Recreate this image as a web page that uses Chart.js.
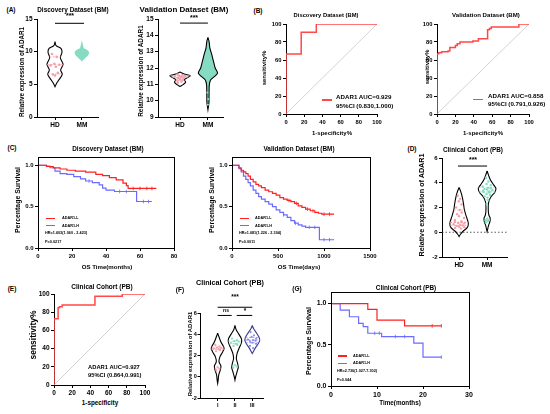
<!DOCTYPE html>
<html>
<head>
<meta charset="utf-8">
<script src="https://cdn.jsdelivr.net/npm/chart.js@4.4.1/dist/chart.umd.min.js"></script>
<style>
  body { margin: 0; width: 550px; height: 414px; background: #fff; position: relative; overflow: hidden;
         font-family: 'Liberation Sans', Arial, sans-serif; font-weight: bold; color: #000; }
  .box { position: absolute; }
  .t { position: absolute; white-space: nowrap; line-height: 1; font-size: 10px; }
  .ln { position: absolute; height: 1.3px; }
</style>
</head>
<body>
<script>
// ---------- data ----------
const PINK = '#f5a0aa';
const TEAL = '#86dcc3';
const LAVENDER = '#8f8fe8';
const RED = '#ff2020';
const BLUE = '#6b6bff';
const ROC_RED = '#ff4848';

const pairLabels = ['HD', 'MM'];
const stageLabels = ['I', 'II', 'III'];
const survTickLabels = ['0.0', '0.5', '1.0'];

// violin outlines: [value, half width in category units], top to bottom
const discHdProfile = [[11.53, 0], [10.92, 0.04], [10.51, 0.22], [9.9, 0.26], [9.08, 0.2], [8.06, 0.3], [7.19, 0.21], [6.53, 0.27], [5.66, 0.14], [5.15, 0.06], [4.64, 0]];
const discMmProfile = [[11.79, 0], [11.02, 0.04], [10.51, 0.08], [10.26, 0.2], [9.9, 0.27], [9.49, 0.24], [9.08, 0.14], [8.72, 0.05], [8.47, 0]];
const discHdValues = [9.65, 9.2, 8.15, 8.0, 7.9, 7.7, 6.75, 6.5, 6.35];
const discHdQuart = [6.6, 8.0, 9.2];

const valHdProfile = [[11.75, 0], [11.63, 0.15], [11.53, 0.36], [11.42, 0.27], [11.28, 0.15], [11.14, 0.2], [10.98, 0.11], [10.87, 0]];
const valMmProfile = [[13.87, 0], [13.63, 0.04], [13.22, 0.07], [12.81, 0.14], [12.4, 0.2], [12.0, 0.26], [11.69, 0.345], [11.49, 0.24], [11.28, 0.1], [10.98, 0.05], [10.36, 0.04], [9.86, 0.035], [9.45, 0]];
const valHdValues = [11.6, 11.56, 11.53, 11.5, 11.48, 11.45, 11.42, 11.38, 11.33, 11.28, 11.22, 11.17, 11.1];
const valMmTail = [10.5, 10.1, 9.75];
const valHdQuart = [11.25, 11.42, 11.52];

const clinHdProfile = [[3.63, 0], [3.28, 0.06], [2.87, 0.11], [2.34, 0.155], [1.8, 0.19], [1.26, 0.26], [0.72, 0.33], [0.37, 0.29], [0.1, 0.15], [-0.16, 0.05], [-0.35, 0]];
const clinMmProfile = [[4.95, 0], [4.62, 0.05], [4.22, 0.12], [3.81, 0.24], [3.55, 0.315], [3.22, 0.27], [2.87, 0.14], [2.47, 0.06], [1.93, 0.04], [1.4, 0.06], [1.13, 0.11], [0.86, 0.1], [0.53, 0.05], [0.05, 0]];
const clinHdValues = [2.95, 2.7, 2.5, 2.25, 2.0, 1.8, 1.6, 1.45, 1.3, 1.15, 1.0, 0.9, 0.85, 0.8, 0.75, 0.7, 0.65, 0.6, 0.55, 0.5, 0.45, 0.4, 0.35, 0.3];
const clinMmValues = [4.4, 4.1, 3.9, 3.8, 3.7, 3.6, 3.55, 3.5, 3.45, 3.4, 3.35, 3.3, 3.25, 3.2, 3.1, 3.0, 2.9, 2.8, 2.6, 2.3, 1.1, 1.0, 0.95, 0.9, 0.8];
const clinHdQuart = [0.55, 0.8, 1.8];
const clinMmQuart = [2.6, 3.25, 3.6];

const stage1Profile = [[4.11, 0], [3.74, 0.08], [3.27, 0.19], [2.87, 0.33], [2.65, 0.37], [2.34, 0.29], [1.87, 0.13], [1.4, 0.08], [1.0, 0.19], [0.63, 0.15], [0.16, 0.06], [-0.31, 0.03], [-0.62, 0]];
const stage2Profile = [[4.83, 0], [4.43, 0.07], [3.99, 0.23], [3.59, 0.37], [3.27, 0.385], [2.8, 0.27], [2.18, 0.12], [1.72, 0.08], [1.25, 0.15], [0.88, 0.19], [0.47, 0.12], [0, 0.04], [-0.31, 0]];
const stage3Profile = [[4.83, 0], [4.52, 0.08], [4.15, 0.23], [3.74, 0.385], [3.43, 0.43], [3.12, 0.35], [2.74, 0.19], [2.43, 0.08], [2.18, 0]];
const stage1Values = [3.0, 2.85, 2.75, 2.7, 2.65, 2.6, 2.5, 2.4, 0.9, 0.75, 0.6];
const stage2Values = [3.6, 3.45, 3.35, 3.3, 3.2, 3.1, 3.0, 2.9, 1.1, 0.95, 0.85];
const stage3Values = [4.2, 3.9, 3.75, 3.6, 3.5, 3.45, 3.4, 3.3, 3.2, 3.1, 2.9, 2.7];
const stage1Quart = [0.8, 2.6, 2.8];
const stage2Quart = [1.0, 3.1, 3.35];
const stage3Quart = [3.2, 3.45, 3.7];

// ROC curves (1-specificity %, sensitivity %)
const rocDiscFpr = [0, 0, 16.7, 16.7, 33.3, 33.3, 100];
const rocDiscTpr = [0, 66.7, 66.7, 90.9, 90.9, 100, 100];
const rocValFpr = [0, 0, 2, 2, 5, 5, 12, 12, 14, 14, 20, 20, 22, 22, 25, 25, 39, 39, 45, 45, 55, 55, 57, 57, 59, 59, 89, 89, 100];
const rocValTpr = [0, 67, 67, 68, 68, 69.2, 69.2, 70, 70, 74, 74, 76, 76, 78, 78, 80, 80, 81, 81, 83.5, 83.5, 93.5, 93.5, 95, 95, 96.8, 96.8, 100, 100];
const rocClinFpr = [0, 0, 4.5, 4.5, 6, 6, 9, 9, 45, 45, 75, 75, 100];
const rocClinTpr = [0, 72.7, 72.7, 84.8, 84.8, 86, 86, 87.9, 87.9, 97.5, 97.5, 100, 100];

// Kaplan-Meier curves
const discLowT = [0, 5, 9, 13, 17, 22, 28, 34, 38, 42, 46, 50, 52, 53, 69.6];
const discLowS = [1.0, 0.985, 0.968, 0.955, 0.94, 0.93, 0.916, 0.89, 0.875, 0.85, 0.823, 0.783, 0.755, 0.72, 0.72];
const discHighT = [0, 4, 5, 7, 10, 13, 17, 21, 25, 28, 32, 36, 38, 40, 45, 58, 67];
const discHighS = [1.0, 1.0, 0.99, 0.97, 0.93, 0.9, 0.89, 0.863, 0.835, 0.81, 0.79, 0.763, 0.723, 0.7, 0.683, 0.562, 0.562];
const discLowCensor = [56, 60, 64, 67];
const discHighCensor = [30, 48, 52, 62, 65];

const valLowT = [0, 60, 75, 100, 125, 150, 175, 200, 230, 260, 290, 320, 360, 400, 440, 480, 520, 560, 600, 640, 680, 720, 760, 800, 850, 900, 940, 975, 1110];
const valLowS = [1.0, 1.0, 0.97, 0.94, 0.92, 0.9, 0.87, 0.83, 0.8, 0.77, 0.75, 0.73, 0.7, 0.68, 0.66, 0.64, 0.61, 0.59, 0.575, 0.56, 0.54, 0.51, 0.49, 0.47, 0.45, 0.43, 0.42, 0.41, 0.41];
const valHighT = [0, 60, 75, 100, 125, 150, 175, 200, 230, 260, 290, 320, 360, 400, 440, 480, 520, 560, 600, 640, 680, 720, 760, 800, 950, 1110];
const valHighS = [1.0, 1.0, 0.96, 0.92, 0.87, 0.83, 0.79, 0.75, 0.7, 0.66, 0.62, 0.59, 0.56, 0.53, 0.5, 0.46, 0.43, 0.4, 0.37, 0.33, 0.3, 0.28, 0.265, 0.25, 0.1, 0.1];
const valLowCensor = [620, 700, 820, 880, 1000, 1060];
const valHighCensor = [560, 690, 840, 900, 1000, 1060];

const clinLowT = [0, 8, 10, 16, 24];
const clinLowS = [1.0, 0.93, 0.8, 0.73, 0.73];
const clinHighT = [0, 2, 4, 6, 7, 8, 11, 18, 20, 24];
const clinHighS = [1.0, 0.92, 0.84, 0.76, 0.72, 0.64, 0.6, 0.52, 0.35, 0.35];
const clinLowCensor = [22, 24];
const clinHighCensor = [9.5, 10.5, 14, 16, 24];

// dot spread pattern inside violins (fraction of local half width)
const JITTER = [-0.55, 0.35, -0.1, 0.65, -0.7, 0.15, 0.5, -0.35, 0.0, 0.75, -0.6, 0.3];

// ---------- setup ----------
Chart.defaults.font.family = "'Liberation Sans', Arial, sans-serif";
Chart.defaults.font.weight = 'bold';
Chart.defaults.color = '#000';
Chart.defaults.animation = false;
Chart.defaults.events = [];
Chart.defaults.plugins.legend.display = false;
Chart.defaults.plugins.tooltip.enabled = false;

const framePlugin = {
  id: 'frame',
  afterDraw(chart) {
    const { ctx, chartArea: a } = chart;
    ctx.save();
    ctx.strokeStyle = '#000';
    ctx.lineWidth = 1;
    ctx.strokeRect(Math.round(a.left) + 0.5, Math.round(a.top) + 0.5, Math.round(a.right - a.left), Math.round(a.bottom - a.top));
    ctx.restore();
  },
};

function txt(x, y, s, size, opt = {}) {
  const d = document.createElement('div');
  d.className = 't';
  d.textContent = s;
  d.style.left = x + 'px';
  d.style.top = y + 'px';
  const start = opt.align === 'start';
  d.style.transformOrigin = start ? '0 50%' : '50% 50%';
  d.style.transform = `translate(${start ? '0' : '-50%'},-50%)` + (opt.rot ? ' rotate(-90deg)' : '') + ` scale(${size / 10})`;
  document.body.appendChild(d);
}

function hline(x0, x1, y, color) {
  const d = document.createElement('div');
  d.className = 'ln';
  d.style.left = x0 + 'px';
  d.style.width = (x1 - x0) + 'px';
  d.style.top = (y - 0.65) + 'px';
  d.style.background = color;
  document.body.appendChild(d);
}

function axis(spec, dir, size) {
  return {
    type: 'linear',
    min: spec.min,
    max: spec.max,
    afterBuildTicks: (s) => { s.ticks = spec.ticks.map((v) => ({ value: v })); },
    afterFit: (s) => { if (dir === 'x') s.height = size; else s.width = size; },
    ticks: {
      autoSkip: false, maxRotation: 0, padding: spec.pad ?? 1.5, color: '#000',
      font: { size: spec.font, weight: 'bold' },
      callback: (v, i) => (spec.labels ? spec.labels[i] : String(v)),
    },
    grid: { drawOnChartArea: false, tickLength: spec.tick ?? 3, color: '#000', lineWidth: 1 },
    border: { color: '#000', width: 1 },
  };
}

function makeChart(area, datasets, xSpec, ySpec, plugins = [], padTop = 8) {
  const YW = 20, XH = 14, PR = 10;
  const box = document.createElement('div');
  box.className = 'box';
  box.style.left = (area.l - YW) + 'px';
  box.style.top = (area.t - padTop) + 'px';
  box.style.width = (area.r - area.l + YW + PR) + 'px';
  box.style.height = (area.b - area.t + XH + padTop) + 'px';
  const cv = document.createElement('canvas');
  box.appendChild(cv);
  document.body.appendChild(box);
  return new Chart(cv, {
    type: 'line',
    data: { datasets },
    options: {
      responsive: true,
      maintainAspectRatio: false,
      layout: { padding: { top: padTop, right: PR, left: 0, bottom: 0 } },
      scales: { x: axis(xSpec, 'x', XH), y: axis(ySpec, 'y', YW) },
    },
    plugins,
  });
}

function widthAt(profile, y) {
  for (let i = 0; i < profile.length - 1; i++) {
    const [y0, w0] = profile[i];
    const [y1, w1] = profile[i + 1];
    if (y <= y0 && y >= y1) return w0 + (w1 - w0) * (y0 - y) / (y0 - y1);
  }
  return 0;
}

function violinShape(profile, c, stroke, fill) {
  const left = profile.map(([y, w]) => ({ x: c - w, y }));
  const right = profile.slice().reverse().map(([y, w]) => ({ x: c + w, y }));
  return {
    data: left.concat(right),
    borderColor: stroke || 'rgba(0,0,0,0)',
    borderWidth: stroke ? 1.1 : 0,
    backgroundColor: fill || 'rgba(0,0,0,0)',
    fill: fill ? 'shape' : false,
    tension: 0.3,
    pointRadius: 0,
  };
}

function violinDots(values, c, profile, color, r = 1.3) {
  return {
    data: values.map((v, i) => ({ x: c + JITTER[i % JITTER.length] * widthAt(profile, v) * 0.85, y: v })),
    showLine: false,
    pointRadius: r,
    pointBackgroundColor: color,
    pointBorderWidth: 0,
  };
}

function quartLines(quarts, c, profile, color) {
  return quarts.map((q, i) => {
    const w = widthAt(profile, q);
    return {
      data: [{ x: c - w, y: q }, { x: c + w, y: q }],
      borderColor: color,
      borderWidth: i === 1 ? 1.1 : 0.8,
      borderDash: [2, 1.5],
      pointRadius: 0,
    };
  });
}

function bracket(x0, x1, y) {
  return { data: [{ x: x0, y }, { x: x1, y }], borderColor: '#000', borderWidth: 1, pointRadius: 0, clip: false };
}

function rocCurve(fpr, tpr) {
  return { data: fpr.map((f, i) => ({ x: f, y: tpr[i] })), borderColor: ROC_RED, borderWidth: 1.5, pointRadius: 0 };
}

function diagonal() {
  return { data: [{ x: 0, y: 0 }, { x: 100, y: 100 }], borderColor: '#c8c8c8', borderWidth: 0.8, pointRadius: 0 };
}

function kmLine(times, surv, color) {
  return { data: times.map((t, i) => ({ x: t, y: surv[i] })), stepped: true, borderColor: color, borderWidth: 1.2, pointRadius: 0 };
}

function survAt(times, surv, t) {
  let s = surv[0];
  for (let i = 0; i < times.length; i++) if (times[i] <= t) s = surv[i];
  return s;
}

function kmCensor(marks, times, surv, color) {
  return {
    data: marks.map((t) => ({ x: t, y: survAt(times, surv, t) })),
    showLine: false,
    pointStyle: 'line',
    rotation: 90,
    pointRadius: 1.8,
    pointBorderColor: color,
    pointBorderWidth: 0.8,
  };
}

const roc100 = { min: 0, max: 100, ticks: [0, 20, 40, 60, 80, 100], font: 5.8 };

// ---------- (A) discovery violin ----------
makeChart({ l: 37, t: 19, r: 98, b: 117 }, [
  bracket(1, 2.08, 14.34),
  violinDots(discHdValues, 1, discHdProfile, PINK),
  ...quartLines(discHdQuart, 1, discHdProfile, PINK),
  violinShape(discHdProfile, 1, '#000', null),
  violinShape(discMmProfile, 2, null, TEAL),
], { min: 0.33, max: 2.6, ticks: [1, 2], labels: pairLabels, font: 6.5 },
   { min: 0, max: 15, ticks: [0, 5, 10, 15], font: 6.5 });

// ---------- (A) validation violin ----------
makeChart({ l: 158, t: 19, r: 223, b: 117 }, [
  bracket(1, 2, 14.75),
  violinDots(valHdValues, 1, valHdProfile, PINK),
  violinDots(valMmTail, 2, valMmProfile, TEAL, 1.1),
  ...quartLines(valHdQuart, 1, valHdProfile, PINK),
  violinShape(valHdProfile, 1, '#000', null),
  violinShape(valMmProfile, 2, '#000', TEAL),
], { min: 0.21, max: 2.54, ticks: [1, 2], labels: pairLabels, font: 6.5 },
   { min: 9, max: 15, ticks: [9, 10, 11, 12, 13, 14, 15], font: 6.5 });

// ---------- (B) ROC ----------
makeChart({ l: 286, t: 24, r: 377, b: 114 }, [rocCurve(rocDiscFpr, rocDiscTpr), diagonal()], roc100, roc100);
makeChart({ l: 437, t: 24, r: 529, b: 114 }, [rocCurve(rocValFpr, rocValTpr), diagonal()], roc100, roc100);

// ---------- (C) KM ----------
makeChart({ l: 38, t: 157, r: 174, b: 248 }, [
  kmCensor(discLowCensor, discLowT, discLowS, RED),
  kmCensor(discHighCensor, discHighT, discHighS, BLUE),
  kmLine(discLowT, discLowS, RED),
  kmLine(discHighT, discHighS, BLUE),
], { min: 0, max: 80, ticks: [0, 20, 40, 60, 80], font: 6 },
   { min: 0, max: 1.1, ticks: [0, 0.5, 1], labels: survTickLabels, font: 6 }, [framePlugin]);

makeChart({ l: 232, t: 157, r: 370, b: 248 }, [
  kmCensor(valLowCensor, valLowT, valLowS, RED),
  kmCensor(valHighCensor, valHighT, valHighS, BLUE),
  kmLine(valLowT, valLowS, RED),
  kmLine(valHighT, valHighS, BLUE),
], { min: 0, max: 1500, ticks: [0, 500, 1000, 1500], font: 6 },
   { min: 0, max: 1.1, ticks: [0, 0.5, 1], labels: survTickLabels, font: 6 }, [framePlugin]);

// ---------- (D) clinical violin ----------
makeChart({ l: 442, t: 158, r: 507, b: 257 }, [
  bracket(0.96, 2, 5.35),
  violinDots(clinHdValues, 1, clinHdProfile, PINK, 1.2),
  violinDots(clinMmValues, 2, clinMmProfile, TEAL, 1.2),
  ...quartLines(clinHdQuart, 1, clinHdProfile, PINK),
  ...quartLines(clinMmQuart, 2, clinMmProfile, TEAL),
  violinShape(clinHdProfile, 1, '#000', null),
  violinShape(clinMmProfile, 2, '#000', null),
  { data: [{ x: 0.39, y: 0 }, { x: 2.71, y: 0 }], borderColor: '#333', borderWidth: 0.8, borderDash: [1.5, 2], pointRadius: 0 },
], { min: 0.39, max: 2.71, ticks: [1, 2], labels: pairLabels, font: 6.5 },
   { min: -2, max: 6, ticks: [-2, 0, 2, 4, 6], font: 6 });

// ---------- (E) clinical ROC ----------
makeChart({ l: 54, t: 294, r: 145, b: 385 }, [rocCurve(rocClinFpr, rocClinTpr), diagonal()],
  { ...roc100, font: 6.5 }, { ...roc100, font: 6.5 });

// ---------- (F) stage violins ----------
makeChart({ l: 200, t: 313, r: 263, b: 398 }, [
  bracket(1, 3, 6.54),
  bracket(1, 1.81, 5.77),
  bracket(2.1, 3, 5.77),
  violinDots(stage1Values, 1, stage1Profile, PINK, 1.1),
  violinDots(stage2Values, 2, stage2Profile, TEAL, 1.1),
  violinDots(stage3Values, 3, stage3Profile, LAVENDER, 1.1),
  ...quartLines(stage1Quart, 1, stage1Profile, PINK),
  ...quartLines(stage2Quart, 2, stage2Profile, TEAL),
  ...quartLines(stage3Quart, 3, stage3Profile, LAVENDER),
  violinShape(stage1Profile, 1, '#000', null),
  violinShape(stage2Profile, 2, '#000', null),
  violinShape(stage3Profile, 3, '#3a3a8c', null),
], { min: -0.02, max: 3.62, ticks: [1, 2, 3], labels: stageLabels, font: 5.5 },
   { min: -2, max: 6, ticks: [-2, 0, 2, 4, 6], font: 5.5, pad: 0.8, tick: 2.5 }, [], 20);

// ---------- (G) clinical KM ----------
makeChart({ l: 331, t: 292, r: 469, b: 386 }, [
  kmCensor(clinLowCensor, clinLowT, clinLowS, RED),
  kmCensor(clinHighCensor, clinHighT, clinHighS, BLUE),
  kmLine(clinLowT, clinLowS, RED),
  kmLine(clinHighT, clinHighS, BLUE),
], { min: 0, max: 30, ticks: [0, 10, 20, 30], font: 7 },
   { min: 0, max: 1.14, ticks: [0, 0.5, 1], labels: survTickLabels, font: 7 }, [framePlugin]);

// ---------- text ----------
txt(11, 10, '(A)', 6.5); txt(257.5, 11, '(B)', 6.5); txt(11.5, 148, '(C)', 6.5);
txt(411.7, 149, '(D)', 6.5); txt(12.3, 289, '(E)', 6.5); txt(179.5, 290, '(F)', 6.5); txt(296.7, 289, '(G)', 6.5);

txt(73, 9.5, 'Discovery Dataset (BM)', 6.4);
txt(184, 9.5, 'Validation Dataset (BM)', 8);
txt(326, 15, 'Discovery Dataset (BM)', 5.8);
txt(486, 15, 'Validation Dataset (BM)', 6.1);
txt(107.5, 149.3, 'Discovery Dataset (BM)', 6.4);
txt(299, 149.3, 'Validation Dataset (BM)', 6.4);
txt(473, 150, 'Clinical Cohort (PB)', 6.35);
txt(102, 287.3, 'Clinical Cohort (PB)', 6.5);
txt(230, 283.3, 'Clinical Cohort (PB)', 7.2);
txt(406, 288.3, 'Clinical Cohort (PB)', 6.4);

txt(22, 72, 'Relative expression of ADAR1', 6.3, { rot: true });
txt(141, 71, 'Relative expression of ADAR1', 6.4, { rot: true });
txt(264.3, 67.5, 'sensitivity%', 6, { rot: true });
txt(426.7, 67, 'sensitivity%', 6, { rot: true });
txt(18.3, 200, 'Percentage Survival', 6.9, { rot: true });
txt(212, 200, 'Percentage Survival', 6.9, { rot: true });
txt(421.7, 205, 'Relative expression of ADAR1', 7.2, { rot: true });
txt(33.3, 335, 'sensitivity%', 8.5, { rot: true });
txt(189.5, 354, 'Relative expression of ADAR1', 5.9, { rot: true });
txt(309.3, 341, 'Percentage Survival', 7.1, { rot: true });

txt(332, 133, '1-specificity%', 6);
txt(483, 133, '1-specificity%', 6);
txt(107, 266.7, 'OS Time(months)', 6.1);
txt(299, 266.7, 'OS Time(days)', 6.1);
txt(100, 402.7, '1-specificity', 6.3);
txt(400, 403.3, 'Time(months)', 6.3);

txt(70, 15.5, '***', 7); txt(194, 17.5, '***', 7); txt(473, 159.5, '***', 7);
txt(235, 297, '***', 6.5); txt(225.5, 310, 'ns', 5); txt(244.5, 311, '*', 6.5);

// ROC legends
hline(322, 332, 100, ROC_RED);
txt(336, 96.7, 'ADAR1 AUC=0.929', 6.2, { align: 'start' });
txt(336, 106, '95%CI (0.830,1.000)', 6.2, { align: 'start' });
hline(473, 483, 99.5, ROC_RED);
txt(488.3, 95.7, 'ADAR1 AUC=0.858', 6.2, { align: 'start' });
txt(488.3, 104, '95%CI (0.791,0.926)', 6.2, { align: 'start' });
txt(87.7, 366.7, 'ADAR1 AUC=0.927', 5.8, { align: 'start' });
txt(87.7, 374.6, '95%CI (0.864,0.991)', 5.8, { align: 'start' });

// KM legends
function kmLegend(x, y, textX, hr, p) {
  hline(x, x + 9, y, RED);
  txt(textX, y, 'ADAR1-L', 3.8, { align: 'start' });
  hline(x, x + 9, y + 7.4, BLUE);
  txt(textX, y + 7.4, 'ADAR1-H', 3.8, { align: 'start' });
  txt(x - 1, y + 15, hr, 3.8, { align: 'start' });
  txt(x - 1, y + 24, p, 3.8, { align: 'start' });
}
kmLegend(46, 218.3, 61.7, 'HR=1.603(1.060 - 2.423)', 'P=0.0217');
kmLegend(239.7, 218.3, 254.7, 'HR=1.681(1.226 - 2.304)', 'P=0.0011');
kmLegend(338, 356, 353, 'HR=2.736(1.027-7.302)', 'P=0.044');
</script>
</body>
</html>
